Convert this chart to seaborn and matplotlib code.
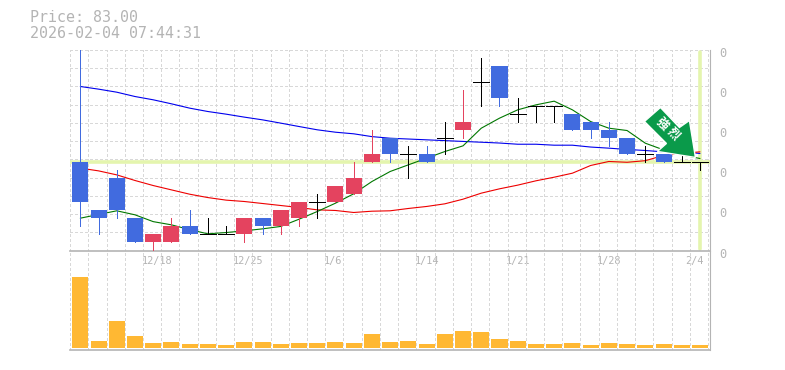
import matplotlib
matplotlib.use("Agg")
import matplotlib.pyplot as plt
from matplotlib.patches import Polygon
from matplotlib.transforms import IdentityTransform, ScaledTranslation
import numpy as np
import pandas as pd
import seaborn as sns

# Candle data, one entry per trading day
opens = [83, 77, 81, 76, 73, 73, 75, 74, 74, 74, 76, 75, 76, 78, 78, 79, 83, 86, 84, 84,
         86, 87, 93, 95, 89, 90, 90, 89, 88, 87, 86, 84, 84, 83, 83]
highs = [97, 77, 82, 76, 74, 76, 77, 76, 75, 76, 76, 77, 78, 79, 80, 83, 87, 86, 85, 85,
         88, 92, 96, 95, 91, 90, 90, 89, 88, 88, 86, 85, 84, 84, 83]
lows = [75, 74, 76, 73, 72, 73, 74, 74, 74, 73, 74, 74, 75, 76, 78, 79, 83, 83, 81, 83,
        84, 86, 90, 90, 88, 88, 88, 87, 86, 85, 84, 83, 83, 83, 82]
closes = [78, 76, 77, 73, 74, 75, 74, 74, 74, 76, 75, 77, 78, 78, 80, 81, 84, 84, 84, 83,
          86, 88, 93, 91, 89, 90, 90, 87, 87, 86, 84, 84, 83, 83, 83]
volumes = [71, 7, 27, 12, 5, 6, 4, 4, 3, 6, 6, 4, 5, 5, 6, 5, 14, 6, 7, 4,
           14, 17, 16, 9, 7, 4, 4, 5, 3, 5, 4, 3, 4, 3, 3]

# Moving averages
ma_blue = [92.45, 92.12, 91.74, 91.2, 90.79, 90.29, 89.75, 89.33, 89.0, 88.63, 88.29, 87.88,
           87.46, 87.05, 86.75, 86.55, 86.2, 86.0, 85.9, 85.8, 85.7, 85.6, 85.5, 85.4, 85.25,
           85.25, 85.13, 85.13, 84.9, 84.76, 84.6, 84.47, 84.3, 84.3, 84.1]
ma_red = [82.27, 81.93, 81.43, 80.73, 80.1, 79.56, 79.02, 78.6, 78.28, 78.11, 77.86, 77.61,
          77.36, 77.07, 76.99, 76.74, 76.9, 76.95, 77.24, 77.49, 77.82, 78.4, 79.15, 79.69,
          80.15, 80.69, 81.14, 81.64, 82.6, 83.1, 83.0, 83.2, 83.85, 84.1, 84.3]
ma_green = [76.03, 76.49, 76.95, 76.45, 75.6, 75.2, 74.6, 74.08, 74.24, 74.45, 74.7, 75.0,
            75.9, 76.86, 77.9, 79.07, 80.6, 81.85, 82.68, 83.51, 84.34, 85.05, 87.25, 88.5,
            89.54, 90.16, 90.62, 89.54, 88.08, 87.25, 86.96, 85.38, 84.55, 83.93, 83.47]

tick_pos = [4, 9, 14, 19, 24, 29, 34]
tick_labels = ["12/18", "12/25", "1/6", "1/14", "1/21", "1/28", "2/4"]
price_ticks = [72, 77, 82, 87, 92, 97]
price_labels = ["0", "0", "0", "0", "0", "0"]
last_price = 83

UP = "#e4435f"
DOWN = "#416bdf"
GREY = "#b4b4b4"
GRID = "#d8d8d8"
NOW = "#e4f5ae"
W, H = 785, 370

sns.set_style("white")
plt.rcParams["font.family"] = ["DejaVu Sans Mono", "Noto Sans CJK JP"]

df = pd.DataFrame({"x": range(len(opens)), "open": opens, "high": highs, "low": lows,
                   "close": closes, "volume": volumes, "blue": ma_blue, "red": ma_red,
                   "green": ma_green})

fig = plt.figure(figsize=(W / 100, H / 100), dpi=100, facecolor="white")
ax = fig.add_axes([70 / W, 1 - 250.5 / H, 640 / W, 200.5 / H])
ax_vol = fig.add_axes([70 / W, 1 - 350 / H, 640 / W, 99.5 / H], facecolor="none")
xlim = (-0.565, 34.55)

# grid on the day boundaries
for a in (ax, ax_vol):
    a.set_xlim(xlim)
    for x in np.arange(len(opens) + 1) - 0.56:
        a.axvline(x, color=GRID, lw=0.5, ls=(0, (4, 4)), zorder=0, antialiased=False)
    for side in a.spines:
        a.spines[side].set_visible(False)
    a.spines["right"].set_visible(True)
    a.spines["right"].set_color(GREY)
    a.spines["bottom"].set_visible(True)
    a.spines["bottom"].set_color(GREY)
    a.spines["bottom"].set_linewidth(1.2)

ax.set_ylim(72, 97)
for y in np.linspace(72, 97, 12)[1:]:
    ax.axhline(y, color=GRID, lw=0.5, ls=(0, (4, 4)), zorder=0, antialiased=False)

# current price cross
ax.axhline(last_price, color=NOW, lw=2.6, zorder=1)
ax.plot([df.x.iloc[-1]] * 2, [72.2, 96.8], color=NOW, lw=2.6, zorder=1)

for col, c in (("blue", "#0000ee"), ("red", "#ee0000"), ("green", "#007700")):
    sns.lineplot(data=df, x="x", y=col, color=c, ax=ax, zorder=2)
    ax.lines[-1].set_linewidth(0.8)

# candles
for row in df.itertuples():
    if row.close > row.open:
        c = UP
    elif row.close < row.open:
        c = DOWN
    else:
        c = "black"
    ax.vlines(row.x, row.low, row.high, color=c, lw=0.6, zorder=3, antialiased=False)
    if row.close == row.open:
        ax.hlines(row.close, row.x - 0.44, row.x + 0.44, color=c, lw=0.6, zorder=3,
                  antialiased=False)
    else:
        ax.bar(row.x, abs(row.close - row.open), bottom=min(row.open, row.close),
               width=0.88, color=c, lw=0, zorder=3)

ax.set_xticks(tick_pos)
ax.set_xticklabels(tick_labels, fontsize=7.4, color=GREY)
ax.tick_params(axis="x", length=0, pad=4)
ax.set_xlabel("")
ax.set_ylabel("")
ax.yaxis.tick_right()
ax.set_yticks(price_ticks)
ax.set_yticklabels(price_labels, fontsize=8.6, color=GREY)
ax.tick_params(axis="y", length=0, pad=7)
for t in ax.get_yticklabels():
    t.set_transform(t.get_transform() + ScaledTranslation(0, -2 / 100, fig.dpi_scale_trans))
for t, px in zip(ax.get_xticklabels(), [4, 4, -2, 0, 0, 0, -6]):
    t.set_transform(t.get_transform() + ScaledTranslation(px / 100, 0, fig.dpi_scale_trans))

# volume
sns.barplot(data=df, x="x", y="volume", native_scale=True, color="#ffb833", width=0.88,
            saturation=1, lw=0, ax=ax_vol, zorder=2)
ax_vol.set_xlim(xlim)
ax_vol.set_ylim(-2, 97.5)
ax_vol.set_xticks([])
ax_vol.set_yticks([])
ax_vol.set_xlabel("")
ax_vol.set_ylabel("")

# arrow badge, drawn in pixels from its tip next to the last candle
fig.canvas.draw()
tip_x, tip_y = ax.transData.transform((33.75, 83.6))
shape = [(-35, 50), (-51, 36), (-29, 14), (-38, 6), (0, 0), (-6, 37), (-16, 30)]
ax.add_patch(Polygon([(tip_x + dx, tip_y + dy) for dx, dy in shape], closed=True,
                     transform=IdentityTransform(), fc="#0a9a4a", ec="white", lw=1.0,
                     zorder=5, clip_on=False))
for ch, dx, dy in (("強", -33, 34), ("烈", -22, 23)):
    fig.text((tip_x + dx) / W, (tip_y + dy) / H, ch, rotation=-45, color="white", fontsize=8.6,
             fontweight="bold", ha="center", va="center", family=["Noto Sans CJK JP"], zorder=6)

fig.text(30 / W, 1 - 18 / H, "Price: 83.00", fontsize=10.8, color=GREY, va="center")
fig.text(30 / W, 1 - 33 / H, "2026-02-04 07:44:31", fontsize=10.8, color=GREY, va="center")

fig.savefig("out.png", dpi=100)
